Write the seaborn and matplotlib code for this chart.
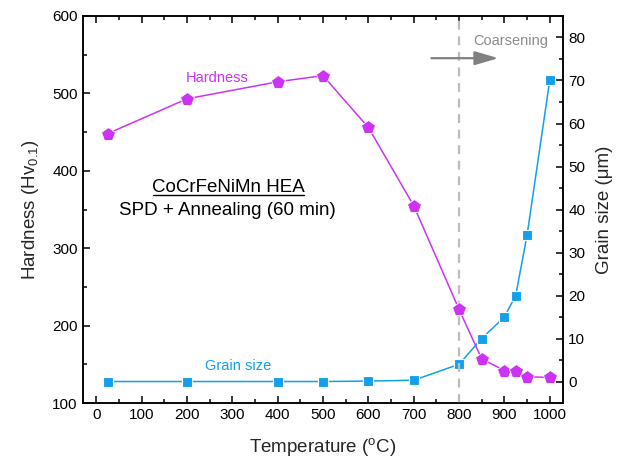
import matplotlib
matplotlib.use("Agg")
import matplotlib.pyplot as plt
import seaborn as sns
import pandas as pd
from matplotlib.ticker import MultipleLocator
from matplotlib.lines import Line2D

temperature = [25, 200, 400, 500, 600, 700, 800, 850, 900, 925, 950, 1000]
hardness = [448, 493, 515, 523, 456, 355, 221, 157, 142, 142, 134, 133]
grain_size = [0, 0, 0, 0, 0.1, 0.3, 4, 10, 15, 20, 34, 70]

df = pd.DataFrame({"T": temperature, "H": hardness, "G": grain_size})

sns.set_theme(style="ticks")
plt.rcParams["font.family"] = ["Liberation Sans", "DejaVu Sans"]
plt.rcParams["mathtext.fontset"] = "custom"
plt.rcParams["mathtext.rm"] = "Liberation Sans"
plt.rcParams["mathtext.it"] = "Liberation Sans"

MAG = "#CC33F5"
BLUE = "#12A0EC"

fig = plt.figure(figsize=(6.28, 4.65), dpi=100)
ax = fig.add_axes([0.1317, 0.1333, 0.897 - 0.1317, 0.9656 - 0.1333])
ax2 = ax.twinx()

ax.axvline(800, color="#BDBDBD", lw=1.6, ls=(0, (4, 3)), zorder=1)

sns.lineplot(data=df, x="T", y="G", ax=ax2, color=BLUE, marker="s", markersize=7.5,
             markeredgecolor="white", markeredgewidth=0.8, lw=1.1, zorder=3)
sns.lineplot(data=df, x="T", y="H", ax=ax, color=MAG, marker="p", markersize=10,
             markeredgecolor="white", markeredgewidth=0.6, lw=1.1, zorder=3)

ax.set_zorder(ax2.get_zorder() + 1)
ax.patch.set_visible(False)

ax.set_xlim(-30, 1030)
ax.set_ylim(100, 600)
ax2.set_ylim(-5, 85)

ax.xaxis.set_major_locator(MultipleLocator(100))
ax.xaxis.set_minor_locator(MultipleLocator(50))
ax.yaxis.set_major_locator(MultipleLocator(100))
ax.yaxis.set_minor_locator(MultipleLocator(50))
ax2.yaxis.set_major_locator(MultipleLocator(10))
ax2.yaxis.set_minor_locator(MultipleLocator(5))

for a in (ax, ax2):
    for s in a.spines.values():
        s.set_linewidth(1.1)
        s.set_color("black")
ax.tick_params(which="both", direction="in", top=True, labelsize=11, colors="black", width=1.1)
ax.tick_params(which="major", length=5)
ax.tick_params(which="minor", length=3)
ax2.tick_params(which="both", direction="in", labelsize=11, colors="black", width=1.1)
ax2.tick_params(which="major", length=5)
ax2.tick_params(which="minor", length=3)

ax.set_xlabel("Temperature ($^{\\mathrm{o}}$C)", fontsize=13.5, labelpad=10)
ax.set_ylabel("Hardness (Hv$_{0.1}$)", fontsize=13.5, labelpad=8)
ax2.set_ylabel("Grain size (\u03bcm)", fontsize=13.5, labelpad=8)

ax.text(267, 520, "Hardness", color=MAG, fontsize=10.5, ha="center", va="center")
ax2.text(312, 3.5, "Grain size", color=BLUE, fontsize=10.5, ha="center", va="center")
ax.text(913, 568, "Coarsening", color="#8C8C8C", fontsize=10.5, ha="center", va="center")
ax.annotate("", xy=(893, 545.5), xytext=(733, 545.5),
            arrowprops=dict(arrowstyle="-|>,head_length=1.2,head_width=0.35", color="#808080", lw=1.6))

t1 = ax.text(292, 379, "CoCrFeNiMn HEA", fontsize=13.5, ha="center", va="center", color="black")
ax.text(288, 349, "SPD + Annealing (60 min)", fontsize=13.5, ha="center", va="center", color="black")

fig.canvas.draw()
bb = t1.get_window_extent()
inv = fig.transFigure.inverted()
(x0, y0) = inv.transform((bb.x0 + 1, bb.y0 + 1))
(x1, _) = inv.transform((bb.x1 - 1, bb.y0 + 1))
fig.add_artist(Line2D([x0, x1], [y0, y0], color="black", lw=1.0, transform=fig.transFigure))

ax.set_ylabel("Hardness (Hv$_{0.1}$)", fontsize=13.5, labelpad=8)

fig.savefig("out.png", dpi=100)
